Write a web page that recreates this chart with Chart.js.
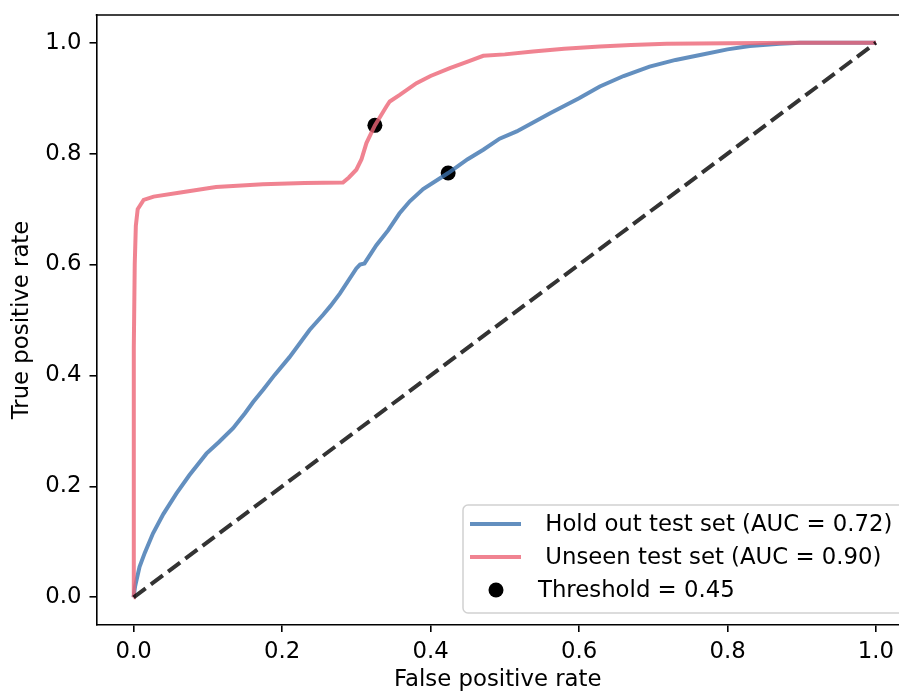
<!DOCTYPE html>
<html><head><meta charset="utf-8">
<script src="https://cdn.jsdelivr.net/npm/chart.js@4.4.0/dist/chart.umd.min.js"></script>
<style>html,body{margin:0;padding:0;background:#fff;overflow:hidden}canvas{display:block}</style>
</head><body>
<canvas id="c" width="899" height="691"></canvas>
<script>
// ---- data ----
const holdoutFpr = [0, 0.002, 0.008, 0.015, 0.026, 0.04, 0.0575, 0.075, 0.098, 0.115, 0.134, 0.15, 0.161, 0.175, 0.19, 0.21, 0.237, 0.255, 0.265, 0.278, 0.3, 0.305, 0.311, 0.327, 0.343, 0.358, 0.372, 0.39, 0.4237, 0.45, 0.471, 0.493, 0.516, 0.561, 0.6, 0.628, 0.66, 0.695, 0.73, 0.763, 0.8, 0.83, 0.87, 0.898, 1.0];
const holdoutTpr = [0, 0.02, 0.055, 0.08, 0.115, 0.15, 0.187, 0.22, 0.259, 0.28, 0.305, 0.332, 0.352, 0.375, 0.401, 0.433, 0.482, 0.509, 0.525, 0.548, 0.593, 0.6, 0.602, 0.635, 0.662, 0.692, 0.714, 0.736, 0.765, 0.79, 0.807, 0.827, 0.84, 0.873, 0.9, 0.921, 0.94, 0.957, 0.969, 0.978, 0.988, 0.994, 0.998, 1.0, 1.0];
const unseenFpr = [0, 0.0, 0.0005, 0.0015, 0.003, 0.0055, 0.0135, 0.027, 0.063, 0.111, 0.174, 0.23, 0.282, 0.29, 0.3, 0.307, 0.3136, 0.325, 0.3405, 0.345, 0.3585, 0.381, 0.4, 0.426, 0.45, 0.471, 0.5, 0.538, 0.58, 0.628, 0.67, 0.718, 0.8, 0.898, 1.0];
const unseenTpr = [0, 0.3, 0.45, 0.6, 0.67, 0.7, 0.7166, 0.7225, 0.73, 0.74, 0.745, 0.747, 0.748, 0.757, 0.771, 0.79, 0.819, 0.851, 0.885, 0.894, 0.906, 0.927, 0.94, 0.954, 0.966, 0.9765, 0.979, 0.984, 0.989, 0.993, 0.996, 0.998, 0.999, 1.0, 1.0];
const thresholdFpr = [0.4237, 0.325];
const thresholdTpr = [0.765, 0.851];
const chanceFpr = [0, 1];
const chanceTpr = [0, 1];
const xTicks = [0.0, 0.2, 0.4, 0.6, 0.8, 1.0];
const yTicks = [0.0, 0.2, 0.4, 0.6, 0.8, 1.0];
const holdoutLabel = ' Hold out test set (AUC = 0.72)';
const unseenLabel = ' Unseen test set (AUC = 0.90)';
const thresholdLabel = 'Threshold = 0.45';
const xTitle = 'False positive rate';
const yTitle = 'True positive rate';

const toPts = (xs, ys) => xs.map((x, i) => ({x: x, y: ys[i]}));
const FONT = '"DejaVu Sans", sans-serif';
const FS = 22.8;
const BLUE = 'rgba(60,115,175,0.8)';
const PINK = 'rgba(236,100,118,0.8)';

const framePlugin = {
  id: 'frame',
  afterDraw(chart) {
    const {ctx, chartArea: ca} = chart;
    ctx.save();
    ctx.strokeStyle = '#000';
    ctx.lineWidth = 1.6;
    ctx.beginPath();
    ctx.moveTo(ca.left - 0.8, ca.top);
    ctx.lineTo(ca.right, ca.top);
    ctx.stroke();
    ctx.restore();
  }
};

const legendPlugin = {
  id: 'rocLegend',
  afterDatasetsDraw(chart) {
    const {ctx, chartArea: ca} = chart;
    const left = 463, right = ca.right + 4, top = ca.bottom - 120, bottom = ca.bottom - 12;
    ctx.save();
    ctx.fillStyle = 'rgba(255,255,255,0.8)';
    ctx.strokeStyle = 'rgba(204,204,204,0.9)';
    ctx.lineWidth = 1.5;
    ctx.beginPath();
    ctx.roundRect(left, top, right - left, bottom - top, 5);
    ctx.fill();
    ctx.stroke();
    const rows = [
      {y: ca.bottom - 101, kind: 'line', color: BLUE, text: chart.data.datasets[2].label},
      {y: ca.bottom - 68, kind: 'line', color: PINK, text: chart.data.datasets[1].label},
      {y: ca.bottom - 35, kind: 'dot', color: '#000', text: chart.data.datasets[3].label}
    ];
    ctx.font = FS + 'px ' + FONT;
    ctx.textBaseline = 'middle';
    ctx.textAlign = 'left';
    rows.forEach(r => {
      if (r.kind === 'line') {
        ctx.strokeStyle = r.color;
        ctx.lineWidth = 4;
        ctx.beginPath();
        ctx.moveTo(470, r.y);
        ctx.lineTo(521, r.y);
        ctx.stroke();
      } else {
        ctx.fillStyle = r.color;
        ctx.beginPath();
        ctx.arc(496, r.y, 7.5, 0, Math.PI * 2);
        ctx.fill();
      }
      ctx.fillStyle = '#000';
      ctx.fillText(r.text, 538, r.y + 1);
    });
    ctx.restore();
  }
};

new Chart(document.getElementById('c'), {
  type: 'scatter',
  data: {
    datasets: [
      {label: 'chance', data: toPts(chanceFpr, chanceTpr), showLine: true, borderColor: 'rgba(0,0,0,0.8)', borderWidth: 4, borderDash: [15, 6.5], pointRadius: 0, fill: false},
      {label: unseenLabel, data: toPts(unseenFpr, unseenTpr), showLine: true, borderColor: PINK, borderWidth: 4, pointRadius: 0, fill: false, tension: 0},
      {label: holdoutLabel, data: toPts(holdoutFpr, holdoutTpr), showLine: true, borderColor: BLUE, borderWidth: 4, pointRadius: 0, fill: false, tension: 0},
      {label: thresholdLabel, data: toPts(thresholdFpr, thresholdTpr), showLine: false, pointRadius: 7.5, pointBackgroundColor: '#000', pointBorderWidth: 0, pointBorderColor: '#000'}
    ]
  },
  options: {
    responsive: false,
    animation: false,
    devicePixelRatio: 1,
    layout: {autoPadding: false, padding: {top: 15, left: 0, right: 0, bottom: 0}},
    plugins: {legend: {display: false}, tooltip: {enabled: false}},
    scales: {
      x: {
        type: 'linear', min: -0.05, max: 1.031,
        afterFit: s => { s.height = 66; s.paddingLeft = 0; s.paddingRight = 0; s.paddingTop = 0; s.paddingBottom = 0; },
        afterBuildTicks: s => { s.ticks = xTicks.map(v => ({value: v})); },
        ticks: {color: '#000', font: {family: FONT, size: FS}, padding: 6, maxRotation: 0, autoSkip: false, callback: v => Number(v).toFixed(1)},
        grid: {display: true, drawOnChartArea: false, drawTicks: true, tickLength: 7, color: '#000', lineWidth: 1.6},
        border: {display: true, color: '#000', width: 1.6},
        title: {display: true, text: xTitle, color: '#000', font: {family: FONT, size: FS, lineHeight: 1}, padding: {top: 0, bottom: 0}}
      },
      y: {
        type: 'linear', min: -0.05, max: 1.05,
        afterFit: s => { s.width = 96.5; s.paddingLeft = 0; s.paddingRight = 0; s.paddingTop = 0; s.paddingBottom = 0; },
        afterBuildTicks: s => { s.ticks = yTicks.map(v => ({value: v})); },
        ticks: {color: '#000', font: {family: FONT, size: FS}, padding: 8, autoSkip: false, callback: v => Number(v).toFixed(1)},
        grid: {display: true, drawOnChartArea: false, drawTicks: true, tickLength: 7, color: '#000', lineWidth: 1.6},
        border: {display: true, color: '#000', width: 1.6},
        title: {display: true, text: yTitle, color: '#000', font: {family: FONT, size: FS, lineHeight: 1}, padding: {top: 11, bottom: 0}}
      }
    }
  },
  plugins: [framePlugin, legendPlugin]
});
</script>
</body></html>
